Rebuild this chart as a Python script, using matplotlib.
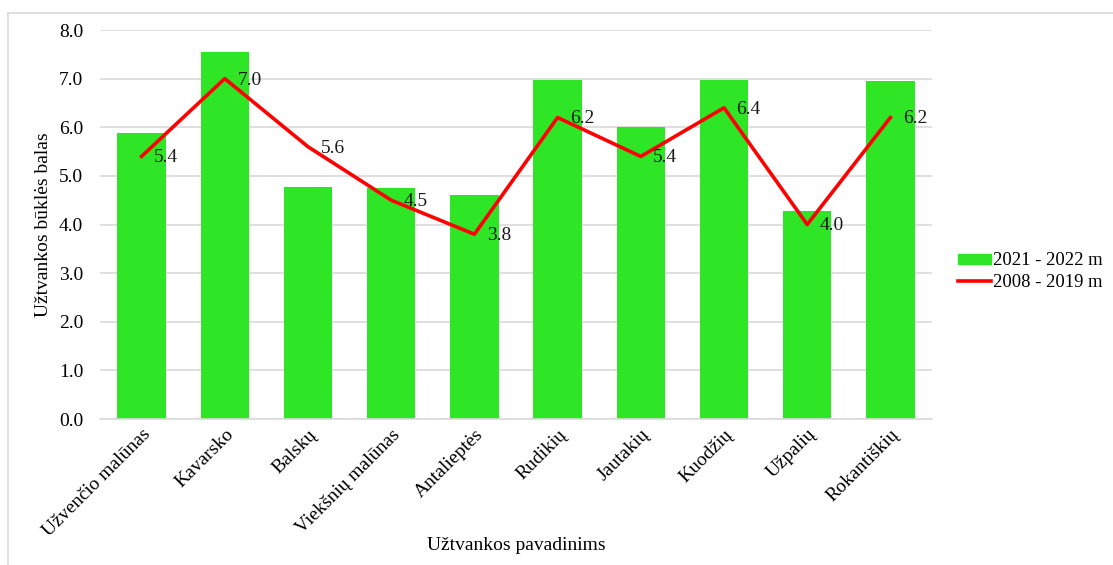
import numpy as np
import matplotlib
matplotlib.use("Agg")
import matplotlib.pyplot as plt
from matplotlib.lines import Line2D

plt.rcParams['font.family'] = ['Liberation Serif', 'DejaVu Serif']

# Data
dams = ["Užvenčio malūnas", "Kavarsko", "Balskų", "Viekšnių malūnas", "Antalieptės",
        "Rudikių", "Jautakių", "Kuodžių", "Užpalių", "Rokantiškių"]
score_2021_2022 = [5.88, 7.55, 4.77, 4.75, 4.61, 6.97, 6.0, 6.97, 4.28, 6.95]
score_2008_2019 = [5.4, 7.0, 5.6, 4.5, 3.8, 6.2, 5.4, 6.4, 4.0, 6.2]

FS = 14

fig = plt.figure(figsize=(11.13, 5.65), dpi=100)
ax = fig.add_axes([0.0898, 0.2584, 0.7476, 0.6885])

x = np.arange(len(dams))
ax.bar(x, score_2021_2022, width=0.58, color="#2ee626", zorder=2, label="2021 - 2022 m")
ax.plot(x, score_2008_2019, color="#ff0000", lw=2.6, zorder=3, label="2008 - 2019 m")

for xi, v in zip(x, score_2008_2019):
    ax.annotate(f"{v:.1f}", (xi, v), xytext=(9, -1), textcoords="offset points",
                ha="left", va="center", fontsize=FS, color="#1a1a1a", zorder=4)

ax.set_xlim(-0.5, len(dams) - 0.5)
ax.set_ylim(0, 8)
ax.set_yticks(np.arange(0, 8.1, 1.0))
ax.set_yticklabels([f"{t:.1f}" for t in np.arange(0, 8.1, 1.0)], fontsize=FS)
ax.set_xticks(x)
ax.set_xticklabels(dams, rotation=45, ha="right", rotation_mode="anchor", fontsize=FS)
ax.tick_params(axis="y", length=0, pad=12)
ax.tick_params(axis="x", length=0, pad=5)

ax.grid(axis="y", color="#d9d9d9", lw=1.2, zorder=0)
for s in ["top", "right", "left"]:
    ax.spines[s].set_visible(False)
ax.spines["bottom"].set_color("#d9d9d9")
ax.spines["bottom"].set_linewidth(1.2)

ax.set_ylabel("Užtvankos būklės balas", fontsize=FS, labelpad=5)
fig.text(0.4636, 0.034, "Užtvankos pavadinims", ha="center", va="center", fontsize=FS)

handles = [plt.Rectangle((0, 0), 1, 1, color="#2ee626"),
           Line2D([0], [0], color="#ff0000", lw=2.6)]
fig.legend(handles, ["2021 - 2022 m", "2008 - 2019 m"], loc="center left",
           bbox_to_anchor=(0.8526, 0.519), frameon=False, fontsize=13.4,
           handlelength=1.75, handleheight=0.5, handletextpad=0.1,
           labelspacing=0.25, borderpad=0)

# outer frame (top and left only visible)
fig.add_artist(Line2D([0.0072, 1.0], [0.977, 0.977], color="#d9d9d9", lw=1.2))
fig.add_artist(Line2D([0.0072, 0.0072], [0.0, 0.977], color="#d9d9d9", lw=1.2))

fig.savefig("out.png", dpi=100)
